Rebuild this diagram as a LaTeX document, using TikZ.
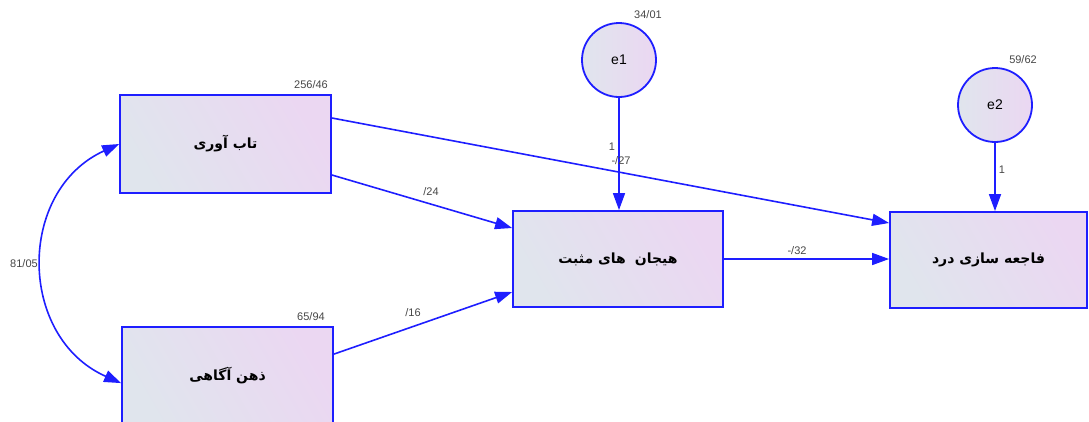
\documentclass[tikz,border=0pt]{standalone}
\usepackage{fontspec}
\setmainfont{Liberation Sans}
\newfontfamily\farsi[Script=Arabic]{DejaVu Sans}
\TeXXeTstate=1
\usetikzlibrary{arrows.meta,calc}
\definecolor{pathblue}{RGB}{30,30,255}
\definecolor{fillA}{RGB}{224,229,237}
\definecolor{fillB}{RGB}{235,215,242}
\definecolor{numgray}{RGB}{70,70,70}
\tikzset{
  varbox/.style={draw=pathblue, line width=1.8pt, left color=fillA, right color=fillB,
    shading angle=120, minimum width=#1, inner sep=0pt,
    font=\farsi\bfseries\fontsize{14}{16}\selectfont},
  errcirc/.style={circle, draw=pathblue, line width=1.8pt, left color=fillA, right color=fillB,
    minimum size=74pt, inner sep=0pt, font=\fontsize{14}{16}\selectfont},
  path/.style={draw=pathblue, line width=1.6pt, -{Triangle[length=17pt,width=12pt]}},
  cov/.style={draw=pathblue, line width=1.6pt,
    {Triangle[length=17pt,width=12pt]}-{Triangle[length=17pt,width=12pt]}},
  est/.style={font=\fontsize{11}{12}\selectfont, text=numgray, inner sep=0pt},
}
\begin{document}
\begin{tikzpicture}[x=1pt, y=-1pt]
\useasboundingbox (0,0) rectangle (1089,421);
\clip (0,0) rectangle (1089,421);

% observed variables
\node[varbox=211pt, minimum height=98pt] (res) at (225.5,144) {\beginR تاب آوری\endR};
\node[varbox=211pt, minimum height=98pt] (mind) at (227.5,376) {\beginR ذهن آگاهی\endR};
\node[varbox=210pt, minimum height=96pt] (emo) at (618,259) {\beginR هیجان\hspace{9pt}های مثبت\endR};
\node[varbox=197pt, minimum height=96pt] (pain) at (988.5,260) {\beginR فاجعه سازی درد\endR};

% error terms
\node[errcirc] (e1) at (619,60) {e1};
\node[errcirc] (e2) at (995,105) {e2};

% regression paths
\draw[path] (e1.south) -- (e1.south |- emo.north);
\draw[path] (e2.south) -- (e2.south |- pain.north);
\draw[path] ([yshift=26pt]res.east) -- ([yshift=37pt]pain.west);
\draw[path] ([yshift=-31pt]res.east) -- ([yshift=31pt]emo.west);
\draw[path] ([yshift=-28pt]mind.north east) -- ([yshift=-33pt]emo.west);
\draw[path] (emo.east) -- (emo.east -| pain.west);

% covariance between exogenous variables
\draw[cov] ([yshift=-57pt]mind.north west)
  .. controls (17.8,337.5) and (16.4,190.9) .. (res.west);

% estimates
\node[est] (vres) at (311,85) {256/46};
\node[est] (vmind) at (311,317) {65/94};
\node[est] (ve1) at (648,15) {34/01};
\node[est] (ve2) at (1023,60) {59/62};
\node[est] (cv) at (24,264) {81/05};
\node[est] (w1) at (612,147) {1};
\node[est] (b1) at (621,161) {-/27};
\node[est] (w2) at (1002,170) {1};
\node[est] (b2) at (431,192) {/24};
\node[est] (b3) at (413,313) {/16};
\node[est] (b4) at (797,251) {-/32};
\end{tikzpicture}
\end{document}
